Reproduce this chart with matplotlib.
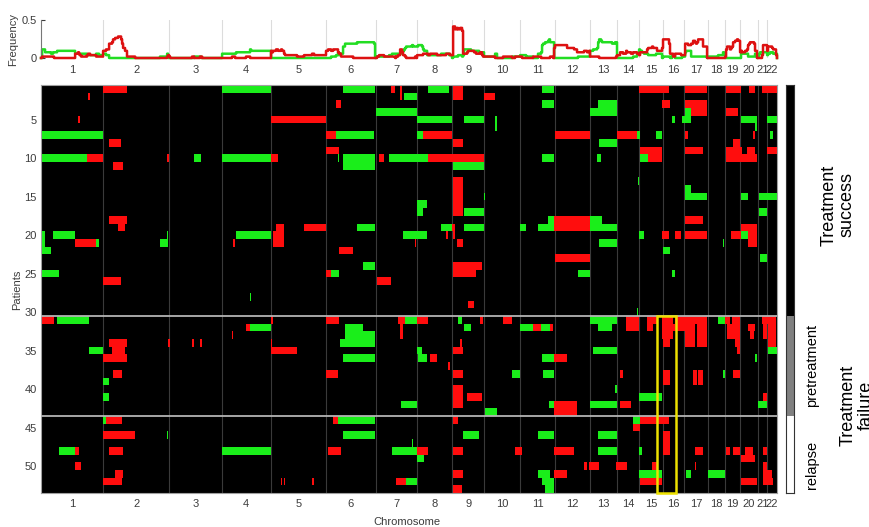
import numpy as np
import matplotlib
matplotlib.use("Agg")
import matplotlib.pyplot as plt
from matplotlib.patches import Rectangle

plt.rcParams['font.family'] = ['Liberation Sans', 'DejaVu Sans']

# ---- genome layout (probe-bin units) ----
chrom_names = [str(i) for i in range(1, 23)]
chrom_sizes = [62, 66.3, 52.4, 49, 55.3, 49.7, 41, 35.6, 31.7, 36, 35, 35,
               27.3, 21.7, 23.7, 21.6, 23.4, 17.3, 15, 17.7, 9.6, 9.7]

n_patients = 53
group_names = ['Treatment success', 'pretreatment', 'relapse']
group_sizes = [30, 13, 10]
group_colors = ['black', '#808080', 'white']

# ---- copy-number segments: (first patient, last patient, start bin, end bin) ----
gain_segments = [
    (1, 1, 62, 86), (2, 2, 47, 49), (5, 5, 37, 38.5), (8, 8, 68, 80),
    (10, 10, 46, 62), (11, 11, 72, 82), (10, 10, 126, 128), (10, 10, 230, 237),
    (5, 5, 230, 285), (18, 18, 68, 86), (19, 19, 77, 84), (21, 21, 34, 55),
    (26, 26, 62, 80), (21, 21, 192, 194), (19, 19, 235, 243), (20, 21, 232, 243),
    (1, 1, 350, 354), (1, 2, 359, 361), (1, 2, 412, 422), (2, 2, 443, 454),
    (3, 3, 295, 300), (7, 7, 285, 295), (7, 7, 382, 411), (8, 8, 412, 422),
    (9, 9, 285, 298), (10, 10, 338, 343), (10, 10, 387, 443), (13, 17, 412, 422),
    (19, 19, 263, 285), (19, 19, 411, 414), (20, 20, 405, 407), (20, 20, 412, 414),
    (21, 21, 416, 422), (21, 21, 374, 375), (22, 22, 298, 312), (24, 24, 412, 441),
    (25, 25, 412, 435), (25, 25, 285, 290), (26, 26, 336, 350), (29, 29, 427, 433),
    (7, 7, 514, 549), (7, 7, 576, 596), (1, 1, 598, 628), (1, 1, 644, 666),
    (1, 1, 685, 700), (1, 1, 708, 714), (1, 1, 721, 736), (3, 3, 621, 629),
    (3, 3, 644, 666), (4, 4, 650, 666), (4, 4, 685, 697), (9, 9, 599, 621),
    (10, 10, 607, 621), (9, 9, 644, 662), (8, 8, 692, 699), (9, 9, 685, 701),
    (9, 9, 706, 714), (10, 10, 685, 716), (9, 9, 726, 736), (7, 7, 644, 647),
    (7, 7, 712, 714), (18, 19, 513, 549), (23, 23, 514, 549), (18, 18, 644, 662),
    (19, 19, 700, 716), (20, 20, 690, 700), (20, 21, 707, 716), (20, 20, 621, 628),
    (20, 20, 634, 640), (20, 20, 644, 666),
    (31, 31, 1, 13), (31, 31, 230, 232), (32, 32, 205, 209), (33, 33, 191, 192),
    (34, 34, 127, 129), (34, 34, 151, 153), (34, 34, 159, 161), (34, 34, 68, 86),
    (35, 35, 71, 84), (36, 36, 62, 86), (34, 34, 230, 231), (35, 35, 230, 256),
    (38, 38, 72, 81), (44, 44, 65, 81), (46, 46, 62, 94), (48, 48, 34, 38),
    (48, 48, 68, 82), (50, 50, 34, 40), (51, 51, 74, 82), (52, 52, 62, 81),
    (52, 52, 240, 241), (52, 52, 243, 244), (52, 52, 271, 273), (31, 31, 285, 298),
    (31, 33, 359, 362), (31, 31, 357, 364), (31, 31, 376, 387), (31, 31, 439, 442),
    (31, 31, 462, 471), (32, 32, 492, 500), (32, 32, 509, 512), (34, 34, 419, 421),
    (35, 35, 412, 422), (36, 36, 389, 396), (37, 37, 407, 409), (38, 38, 285, 297),
    (38, 38, 412, 422), (40, 42, 412, 422), (41, 41, 426, 441), (44, 44, 292, 297),
    (44, 44, 412, 417), (48, 48, 287, 300), (48, 48, 376, 387), (48, 48, 412, 422),
    (48, 48, 474, 481), (51, 51, 412, 422), (52, 52, 355, 365), (53, 53, 412, 421),
    (36, 36, 513, 526), (38, 38, 579, 582), (42, 43, 513, 536), (42, 42, 579, 589),
    (31, 32, 585, 598), (31, 32, 606, 612), (31, 31, 612, 616), (31, 33, 621, 632),
    (34, 34, 622, 629), (31, 31, 634, 666), (32, 32, 632, 644), (32, 34, 644, 654),
    (32, 34, 656, 666), (31, 31, 684, 689), (31, 33, 691, 699), (32, 33, 686, 691),
    (34, 34, 694, 699), (35, 35, 696, 699), (32, 32, 707, 714), (33, 33, 709, 713),
    (31, 31, 721, 735), (32, 33, 722, 726), (32, 34, 727, 735), (38, 39, 622, 629),
    (38, 39, 652, 656), (38, 39, 657, 662), (38, 38, 692, 699), (41, 41, 722, 726),
    (42, 42, 589, 590), (44, 44, 599, 628), (45, 45, 592, 599), (46, 48, 622, 629),
    (48, 48, 513, 533), (48, 48, 654, 662), (48, 48, 685, 689), (48, 48, 692, 699),
    (48, 48, 704, 712), (49, 49, 700, 714), (48, 48, 722, 726), (50, 50, 543, 546),
    (50, 50, 548, 558), (50, 50, 575, 586), (50, 50, 611, 616), (51, 51, 513, 526),
    (52, 52, 599, 621), (50, 52, 722, 726), (51, 52, 724, 731), (52, 52, 700, 716),
    (52, 52, 722, 732), (50, 50, 654, 655),
]

loss_segments = [
    (7, 7, 1, 62), (10, 10, 1, 46), (10, 10, 153, 160), (1, 1, 181, 230),
    (10, 10, 181, 230), (20, 20, 12, 34), (20, 21, 1, 4), (21, 21, 55, 58),
    (22, 22, 1, 10), (25, 25, 1, 18), (21, 21, 119, 127), (20, 20, 126, 127),
    (20, 20, 195, 230), (28, 28, 209, 210), (1, 1, 302, 334), (2, 2, 363, 376),
    (1, 1, 387, 408), (4, 4, 335, 376), (5, 5, 376, 411), (5, 5, 423, 443),
    (5, 6, 454, 456), (7, 7, 295, 333), (7, 7, 376, 382), (10, 10, 297, 298),
    (10, 11, 302, 334), (10, 10, 348, 387), (11, 11, 412, 443), (15, 15, 443, 444),
    (16, 16, 376, 386), (17, 17, 376, 382), (17, 17, 423, 443), (19, 19, 316, 334),
    (19, 19, 400, 411), (19, 19, 423, 443), (19, 19, 479, 485), (20, 20, 362, 386),
    (24, 24, 322, 334), (25, 25, 290, 298), (1, 1, 501, 513), (3, 3, 501, 513),
    (10, 10, 501, 513), (3, 3, 557, 576), (4, 4, 549, 576), (5, 5, 631, 634),
    (4, 4, 644, 650), (5, 5, 641, 650), (5, 5, 700, 716), (6, 6, 714, 716),
    (5, 5, 726, 736), (8, 8, 558, 576), (7, 7, 596, 599), (7, 7, 615, 621),
    (7, 7, 729, 732), (10, 10, 556, 560), (10, 10, 599, 607), (13, 13, 597, 598),
    (14, 14, 644, 650), (15, 15, 644, 666), (15, 15, 700, 707), (15, 15, 718, 736),
    (17, 17, 718, 726), (18, 18, 507, 513), (19, 19, 497, 513), (18, 19, 549, 561),
    (19, 19, 561, 576), (21, 21, 558, 576), (20, 20, 598, 603), (22, 22, 622, 629),
    (21, 21, 682, 683), (20, 20, 700, 707), (23, 23, 719, 726), (25, 25, 537, 549),
    (25, 25, 631, 634), (30, 30, 596, 597),
    (31, 31, 16, 48), (32, 32, 209, 230), (35, 35, 48, 62), (39, 39, 62, 68),
    (41, 41, 62, 68), (44, 44, 62, 65), (46, 46, 126, 127), (48, 48, 18, 34),
    (48, 48, 181, 230), (31, 31, 364, 376), (31, 31, 417, 421), (32, 32, 479, 492),
    (32, 32, 500, 509), (32, 32, 423, 430), (32, 32, 304, 322), (33, 33, 304, 334),
    (34, 34, 299, 334), (35, 35, 376, 381), (36, 36, 377, 386), (36, 36, 302, 334),
    (38, 38, 471, 479), (42, 42, 360, 376), (43, 43, 444, 456), (44, 44, 297, 334),
    (46, 46, 302, 334), (46, 46, 422, 438), (48, 48, 351, 376), (47, 47, 371, 372),
    (49, 49, 376, 383), (52, 52, 365, 376), (31, 31, 549, 576), (32, 32, 557, 571),
    (35, 35, 552, 576), (36, 36, 501, 513), (38, 38, 502, 513), (40, 40, 574, 576),
    (42, 42, 508, 513), (42, 42, 549, 576), (41, 41, 598, 621), (46, 46, 497, 513),
    (46, 46, 557, 576), (48, 48, 557, 576), (48, 48, 598, 601), (51, 51, 497, 509),
    (52, 52, 501, 513), (53, 53, 504, 513), (51, 51, 598, 621), (51, 51, 645, 650),
    (51, 51, 667, 684), (44, 44, 592, 599), (31, 31, 677, 684), (35, 35, 727, 736),
    (36, 36, 714, 716), (38, 38, 682, 684), (42, 42, 717, 726),
]

# region of interest around chromosome 16 in treatment-failure patients
focus_bins = (616, 635)
focus_patients = (31, 53)

gain_color = '#ff0d0d'
loss_color = '#1aee1a'

# ---- figure / axes ----
W, H = 869, 527
fig = plt.figure(figsize=(W / 100, H / 100), dpi=100)


def px_box(x0, y0, x1, y1):
    return [x0 / W, 1 - y1 / H, (x1 - x0) / W, (y1 - y0) / H]


ax = fig.add_axes(px_box(41, 85, 777, 493))
ax_f = fig.add_axes(px_box(41, 20, 777, 58))
ax_s = fig.add_axes(px_box(786, 85, 794, 493))

bounds = np.concatenate([[0], np.cumsum(chrom_sizes)])
centers = (bounds[:-1] + bounds[1:]) / 2
genome_len = bounds[-1]
tick_color = '#3c3c3c'

# ---- heatmap ----
ax.set_facecolor('black')
for b in bounds[1:-1]:
    ax.axvline(b, color='#3a3a3a', lw=0.8, zorder=1)


def draw_segments(segs, color):
    s = np.array(segs, dtype=float)
    r0, r1, x0, x1 = s.T
    ax.barh((r0 + r1) / 2, x1 - x0, left=x0, height=r1 - r0 + 1,
            color=color, lw=0, zorder=2)


draw_segments(loss_segments, loss_color)
draw_segments(gain_segments, gain_color)

cum = np.cumsum(group_sizes)
for c in cum[:-1]:
    ax.axhline(c + 0.5, color='#b4b4b4', lw=1.3, zorder=3)

ax.add_patch(Rectangle((focus_bins[0], focus_patients[0] - 0.5),
                       focus_bins[1] - focus_bins[0],
                       focus_patients[1] - focus_patients[0] + 1,
                       fill=False, ec='#ede100', lw=1.8, zorder=4, clip_on=False))

ax.set_xlim(0, genome_len)
ax.set_ylim(n_patients + 0.5, 0.5)
ax.set_yticks(np.arange(5, 51, 5))
ax.set_xticks(centers)
ax.set_xticklabels(chrom_names)
ax.tick_params(length=0, labelsize=8, colors=tick_color, pad=4)
ax.tick_params(axis='y', pad=3)
for sp in ax.spines.values():
    sp.set_color('#a0a0a0')
    sp.set_linewidth(0.8)

# ---- frequency panel ----
grid = np.linspace(0, genome_len, 6000)


def frequency(segs):
    cov = np.zeros((n_patients, grid.size), dtype=bool)
    for r0, r1, a, b in segs:
        cov[r0 - 1:r1, (grid >= a) & (grid < b)] = True
    return cov.sum(axis=0) / n_patients


for b in bounds[1:-1]:
    ax_f.plot([b, b], [0, 0.5], color='#dcdcdc', lw=0.8, zorder=1)
ax_f.plot(grid, frequency(loss_segments), color='#22dd22', lw=1.8,
          drawstyle='steps-post', clip_on=False, zorder=2)
ax_f.plot(grid, frequency(gain_segments), color='#dd1111', lw=1.8,
          drawstyle='steps-post', clip_on=False, zorder=3)
ax_f.set_xlim(0, genome_len)
ax_f.set_ylim(0, 0.5)
ax_f.set_yticks([0, 0.5])
ax_f.set_yticklabels(['0', '0.5'])
ax_f.set_xticks(centers)
ax_f.set_xticklabels(chrom_names)
ax_f.tick_params(axis='x', length=0, labelsize=8, colors=tick_color, pad=5)
ax_f.tick_params(axis='y', direction='in', length=3, labelsize=8,
                 colors=tick_color, pad=3)
for side in ['top', 'right', 'bottom']:
    ax_f.spines[side].set_visible(False)
ax_f.spines['left'].set_color('#777777')
ax_f.set_facecolor('none')

# ---- group bar ----
starts = np.concatenate([[0], cum[:-1]])
ax_s.barh(starts + np.array(group_sizes) / 2 + 0.5, 1, height=group_sizes,
          color=group_colors, lw=0)
ax_s.set_xlim(0, 1)
ax_s.set_ylim(n_patients + 0.5, 0.5)
ax_s.set_xticks([])
ax_s.set_yticks([])
for sp in ax_s.spines.values():
    sp.set_color('#333333')
    sp.set_linewidth(0.8)

# ---- labels ----
fig.text(13 / W, 1 - 40 / H, 'Frequency', rotation=90, ha='center',
         va='center', fontsize=8, color=tick_color)
fig.text(17 / W, 1 - 290 / H, 'Patients', rotation=90, ha='center',
         va='center', fontsize=8, color=tick_color)
fig.text(407 / W, 1 - 522 / H, 'Chromosome', ha='center', va='center',
         fontsize=8, color=tick_color)

fig.text(838 / W, 1 - 205 / H, 'Treatment\nsuccess', rotation=90,
         ha='center', va='center', fontsize=13, linespacing=1.05)
fig.text(812 / W, 1 - 365 / H, 'pretreatment', rotation=90,
         ha='center', va='center', fontsize=10.5)
fig.text(812 / W, 1 - 465 / H, 'relapse', rotation=90,
         ha='center', va='center', fontsize=10.5)
fig.text(857 / W, 1 - 405 / H, 'Treatment\nfailure', rotation=90,
         ha='center', va='center', fontsize=13, linespacing=1.05)

fig.savefig('out.png', dpi=100, facecolor='white')
